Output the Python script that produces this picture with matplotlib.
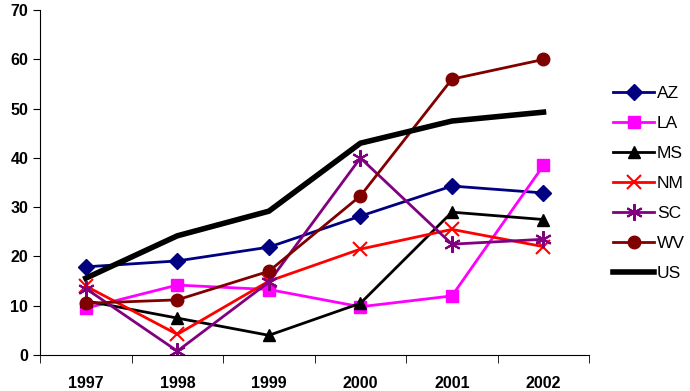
import numpy as np
import matplotlib.pyplot as plt

years = ['1997', '1998', '1999', '2000', '2001', '2002']
az = [17.9, 19.1, 21.9, 28.2, 34.3, 32.9]
la = [9.5, 14.2, 13.3, 9.8, 12.0, 38.5]
ms = [11.0, 7.5, 4.0, 10.5, 29.0, 27.5]
nm = [14.0, 4.2, 15.0, 21.5, 25.5, 22.0]
sc = [13.5, 0.8, 14.8, 40.0, 22.5, 23.5]
wv = [10.5, 11.2, 17.0, 32.3, 56.0, 60.0]
us = [15.6, 24.2, 29.2, 43.0, 47.5, 49.3]

plt.rcParams['font.family'] = ['Liberation Sans', 'DejaVu Sans']

fig = plt.figure(figsize=(6.9, 3.91), dpi=100)
ax = fig.add_axes([0.058, 0.092, 0.796, 0.882])

x = np.arange(len(years))
series = [
    ('AZ', az, '#000080', 'D', 8),
    ('LA', la, '#ff00ff', 's', 8),
    ('MS', ms, '#000000', '^', 9),
    ('NM', nm, '#ff0000', 'x', 10),
    ('SC', sc, '#800080', (6, 2, 0), 12),
    ('WV', wv, '#800000', 'o', 9),
]
for name, vals, col, mk, size in series:
    ax.plot(x, vals, color=col, marker=mk, markersize=size, lw=2,
            markeredgewidth=1.5 if mk in ('x', (6, 2, 0)) else 1,
            markeredgecolor=col, label=name)
ax.plot(x, us, color='black', lw=4, label='US')

ax.set_xlim(-0.5, len(years) - 0.5)
ax.set_ylim(0, 70)
ax.set_yticks(range(0, 71, 10))
ax.set_xticks(x)
ax.set_xticklabels(years, fontsize=11.5, fontweight='bold')
ax.set_xticks(np.arange(-0.5, len(years)), minor=True)
ax.tick_params(axis='x', which='major', length=0, pad=15)
ax.tick_params(axis='x', which='minor', length=6, direction='out')
ax.tick_params(axis='y', length=5, labelsize=11.5)
for lbl in ax.get_yticklabels():
    lbl.set_fontweight('bold')
ax.spines['top'].set_visible(False)
ax.spines['right'].set_visible(False)

leg = ax.legend(loc='upper left', bbox_to_anchor=(1.03, 0.8), frameon=False,
                fontsize=12.5, handlelength=2.4, labelspacing=0.85,
                handletextpad=0.15, borderaxespad=0)

fig.savefig('out.png', dpi=100)
